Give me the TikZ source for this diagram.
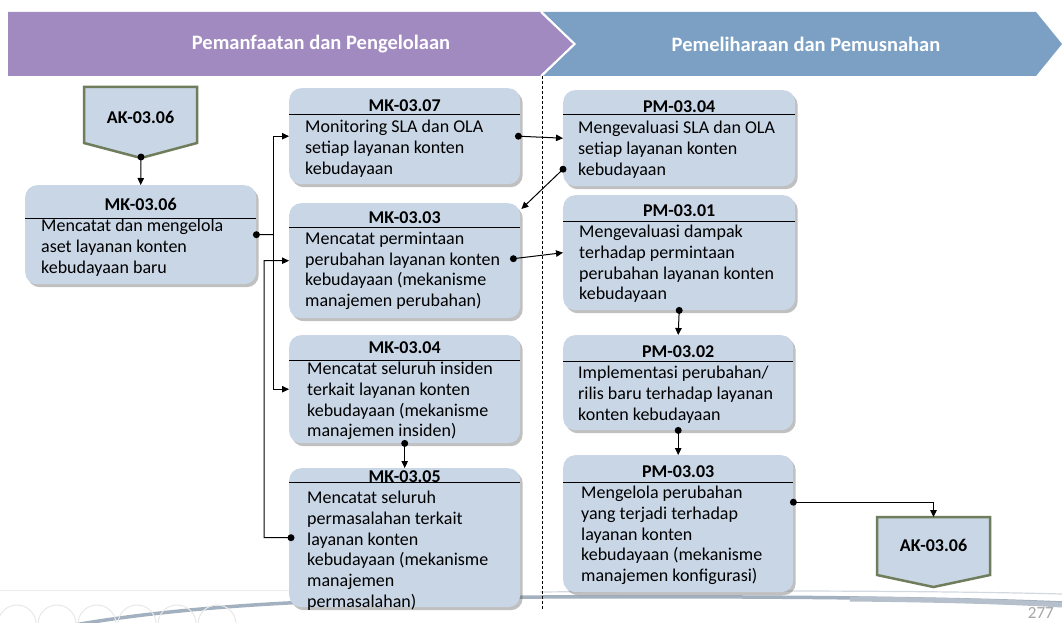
\documentclass[tikz,border=0pt]{standalone}
\usepackage{fontspec}
\setmainfont{Carlito}
\usetikzlibrary{shadows,arrows.meta,calc}
\definecolor{boxfill}{HTML}{C9D6E6}
\definecolor{purpleban}{HTML}{A08AC0}
\definecolor{blueban}{HTML}{7BA0C3}
\definecolor{akborder}{HTML}{6F7D5C}
\definecolor{swoosh}{HTML}{A3B0BF}
\definecolor{swooshlight}{HTML}{D3D9E0}
\tikzset{
  proc/.style={draw=none, fill=boxfill, rounded corners=12pt, inner sep=0pt, anchor=north west,
    drop shadow={shadow xshift=2.5pt, shadow yshift=-3pt, opacity=0.35, fill=black!70}},
  ttl/.style={font=\fontsize{18}{20}\selectfont\bfseries, inner sep=0pt},
  body/.style={font=\fontsize{18}{20.7}\selectfont, align=left, inner sep=0pt, anchor=north west},
  conn/.style={line width=1pt, -{Triangle[length=7pt,width=6.5pt]}},
  plainline/.style={line width=1pt},
  sepline/.style={line width=0.9pt},
  dotmark/.style={fill=black},
  akshape/.style={fill=boxfill, draw=akborder, line width=2.5pt, line join=miter},
  bantext/.style={font=\fontsize{20.5}{24}\selectfont\bfseries, text=white, inner sep=0pt},
  navcircle/.style={draw=gray!18, line width=1pt},
}
\begin{document}
\begin{tikzpicture}[x=1pt,y=-1pt]
\useasboundingbox (0,0) rectangle (1062,623);
\fill[white] (0,0) rectangle (1062,623);

% bottom slide decoration
\draw[gray!15, line width=1pt] (0,590) -- (300,590);
\draw[swooshlight, line width=1.2pt] (540,592) .. controls (750,590) and (950,591) .. (1062,594);
\draw[swoosh, line width=3.5pt] (58,628) .. controls (200,601) and (380,598) .. (540,597) .. controls (750,596) and (950,598) .. (1062,603);
\draw[swoosh!80, line width=5pt] (850,599) .. controls (950,600) and (1010,602) .. (1062,605);
\foreach \cx in {17,57,97,137,177,217} {\draw[navcircle] (\cx,624) circle (19pt);}
\node[anchor=south east, inner sep=0pt, text=gray!70, font=\fontsize{17}{20}\selectfont] (pagenum) at (1054,619) {277};

% banner
\fill[blueban] (543,12) -- (1036,12) -- (1062,44) -- (1036,76) -- (543,76) -- (576,44) -- cycle;
\fill[purpleban] (8,12) -- (541,12) -- (574,44) -- (541,76) -- (8,76) -- cycle;
\draw[white, line width=2pt] (541,12) -- (574.5,44) -- (541,76);
\node[bantext] (ban1) at (321,44) {Pemanfaatan dan Pengelolaan};
\node[bantext] (ban2) at (806,44) {Pemeliharaan dan Pemusnahan};

% dashed divider
\draw[dashed, dash pattern=on 3pt off 2pt, line width=0.9pt] (542,76) -- (542,610);

% AK top
\draw[akshape] (84,87) -- (197,87) -- (197,143) -- (141,158) -- (84,143) -- cycle;
\node[ttl] (ak1) at (140.5,117) {AK-03.06};
\coordinate (ak1tip) at (141,157);

% AK bottom
\draw[akshape] (877,517) -- (990,517) -- (990,575) -- (933.5,587) -- (877,575) -- cycle;
\node[ttl] (ak2) at (933.5,545) {AK-03.06};
\coordinate (ak2top) at (933.5,517);

% process boxes
\node[proc, minimum width=231pt, minimum height=99pt] (mk0306) at (25,185) {};
\node[proc, minimum width=231pt, minimum height=96pt] (mk0307) at (289,88) {};
\node[proc, minimum width=231pt, minimum height=115pt] (mk0303) at (289,203) {};
\node[proc, minimum width=231pt, minimum height=108pt] (mk0304) at (289,335) {};
\node[proc, minimum width=231pt, minimum height=139pt] (mk0305) at (289,468) {};
\node[proc, minimum width=232pt, minimum height=96pt] (pm0304) at (563,90) {};
\node[proc, minimum width=232pt, minimum height=115pt] (pm0301) at (563,195) {};
\node[proc, minimum width=230pt, minimum height=95pt] (pm0302) at (563,335) {};
\node[proc, minimum width=230pt, minimum height=137pt] (pm0303) at (563,455) {};

% MK-03.06
\node[ttl] (t0306) at ([yshift=-19pt]mk0306.north) {MK-03.06};
\draw[sepline] ([yshift=-33pt]mk0306.north west) -- ([yshift=-33pt]mk0306.north east);
\node[body] (b0306) at ([xshift=16pt,yshift=-34pt]mk0306.north west) {Mencatat dan mengelola\\aset layanan konten\\kebudayaan baru};

% MK-03.07
\node[ttl] (t0307) at ([yshift=-18pt]mk0307.north) {MK-03.07};
\draw[sepline] ([yshift=-26pt]mk0307.north west) -- ([yshift=-26pt]mk0307.north east);
\node[body] (b0307) at ([xshift=16pt,yshift=-32pt]mk0307.north west) {Monitoring SLA dan OLA\\setiap layanan konten\\kebudayaan};

% MK-03.03
\node[ttl] (t0303) at ([yshift=-15pt]mk0303.north) {MK-03.03};
\draw[sepline] ([yshift=-24pt]mk0303.north west) -- ([yshift=-24pt]mk0303.north east);
\node[body] (b0303) at ([xshift=16pt,yshift=-29pt]mk0303.north west) {Mencatat permintaan\\perubahan layanan konten\\kebudayaan (mekanisme\\manajemen perubahan)};

% MK-03.04
\node[ttl] (t0304) at ([yshift=-13pt]mk0304.north) {MK-03.04};
\draw[sepline] ([yshift=-25pt]mk0304.north west) -- ([yshift=-25pt]mk0304.north east);
\node[body] (b0304) at ([xshift=18pt,yshift=-27pt]mk0304.north west) {Mencatat seluruh insiden\\terkait layanan konten\\kebudayaan (mekanisme\\manajemen insiden)};

% MK-03.05
\node[ttl] (t0305) at ([yshift=-9pt]mk0305.north) {MK-03.05};
\draw[sepline] ([yshift=-14pt]mk0305.north west) -- ([yshift=-14pt]mk0305.north east);
\node[body] (b0305) at ([xshift=18pt,yshift=-23pt]mk0305.north west) {Mencatat seluruh\\permasalahan terkait\\layanan konten\\kebudayaan (mekanisme\\manajemen\\permasalahan)};

% PM-03.04
\node[ttl] (t0304p) at ([yshift=-17pt]pm0304.north) {PM-03.04};
\draw[sepline] ([yshift=-24pt]pm0304.north west) -- ([yshift=-24pt]pm0304.north east);
\node[body] (b0304p) at ([xshift=15pt,yshift=-31pt]pm0304.north west) {Mengevaluasi SLA dan OLA\\setiap layanan konten\\kebudayaan};

% PM-03.01
\node[ttl] (t0301p) at ([yshift=-16pt]pm0301.north) {PM-03.01};
\draw[sepline] ([yshift=-26pt]pm0301.north west) -- ([yshift=-26pt]pm0301.north east);
\node[body] (b0301p) at ([xshift=16pt,yshift=-30pt]pm0301.north west) {Mengevaluasi dampak\\terhadap permintaan\\perubahan layanan konten\\kebudayaan};

% PM-03.02
\node[ttl] (t0302p) at ([yshift=-17pt]pm0302.north) {PM-03.02};
\draw[sepline] ([yshift=-26pt]pm0302.north west) -- ([yshift=-26pt]pm0302.north east);
\node[body] (b0302p) at ([xshift=15pt,yshift=-31pt]pm0302.north west) {Implementasi perubahan/\\rilis baru terhadap layanan\\konten kebudayaan};

% PM-03.03
\node[ttl] (t0303p) at ([yshift=-17pt]pm0303.north) {PM-03.03};
\draw[sepline] ([yshift=-27pt]pm0303.north west) -- ([yshift=-27pt]pm0303.north east);
\node[body] (b0303p) at ([xshift=18pt,yshift=-31pt]pm0303.north west) {Mengelola perubahan\\yang terjadi terhadap\\layanan konten\\kebudayaan (mekanisme\\manajemen konfigurasi)};

% connectors
\fill[dotmark] (ak1tip) circle (3.5pt);
\draw[conn] (ak1tip) -- (mk0306.north);

\coordinate (j1) at (273,234.5);
\fill[dotmark] (mk0306.east) circle (3.5pt);
\draw[plainline] (mk0306.east) -- (j1);
\draw[conn] (j1) |- (mk0307.west);
\draw[conn] (j1) |- (mk0304.west);

\coordinate (d0305) at ([xshift=2pt]mk0305.west);
\coordinate (j2) at (264,537.5);
\fill[dotmark] (d0305) circle (3.5pt);
\draw[conn] (d0305) -- (j2) |- (mk0303.west);

\coordinate (d0307) at ([xshift=-2pt]mk0307.east);
\fill[dotmark] (d0307) circle (3.5pt);
\draw[conn] (d0307) -- (pm0304.west);

\coordinate (d0304p) at ([yshift=-31pt]pm0304.west);
\fill[dotmark] (d0304p) circle (3.5pt);
\draw[conn] (d0304p) -- ([xshift=1pt,yshift=-6pt]mk0303.north east);

\coordinate (d0303) at ([xshift=-7pt,yshift=2pt]mk0303.east);
\fill[dotmark] (d0303) circle (3.5pt);
\draw[conn] (d0303) -- (pm0301.west);

\fill[dotmark] (mk0304.south) circle (3.5pt);
\draw[conn] (mk0304.south) -- (mk0305.north);

\fill[dotmark] (pm0301.south) circle (3.5pt);
\draw[conn] (pm0301.south) -- (pm0302.north);

\fill[dotmark] (pm0302.south) circle (3.5pt);
\draw[conn] (pm0302.south) -- (pm0303.north);

\coordinate (d0303p) at ([yshift=21.5pt]pm0303.east);
\fill[dotmark] (d0303p) circle (3.5pt);
\draw[conn] (d0303p) -| (ak2top);
\end{tikzpicture}
\end{document}
